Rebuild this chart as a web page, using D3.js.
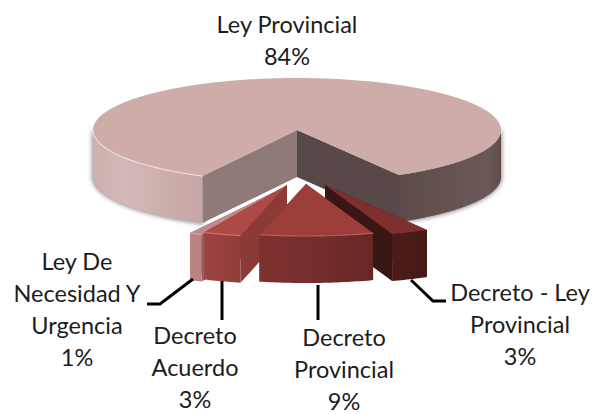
<!DOCTYPE html>
<html>
<head>
<meta charset="utf-8">
<script src="https://cdn.jsdelivr.net/npm/d3@7"></script>
<style>
    html, body { margin: 0; padding: 0; background: #fff; }
    text { font-family: Lato, "Open Sans", sans-serif; font-size: 23.5px; fill: #1c1c1c; text-anchor: middle; }
</style>
</head>
<body>
<div id="chart"></div>
<script>
const categories = ['Ley Provincial', 'Decreto - Ley Provincial', 'Decreto Provincial', 'Decreto Acuerdo', 'Ley De Necesidad Y Urgencia'];
const percentages = [84, 3, 9, 3, 1];

// how each label breaks into lines
const labelLines = [
    ['Ley Provincial', '84%'],
    ['Decreto - Ley', 'Provincial', '3%'],
    ['Decreto', 'Provincial', '9%'],
    ['Decreto', 'Acuerdo', '3%'],
    ['Ley De', 'Necesidad Y', 'Urgencia', '1%']
];

// colours per slice
const topColors = ['#cdacaa', '#7f302e', '#9c3d3a', '#ad4a46', '#bf8a88'];
const startWallColors = ['#8f7a78', '#3a1614', '#3a1614', '#8b3a37', '#8d6663'];
const endWallColors = ['#584847', '#3a1614', '#7a302e', '#8b3a37', '#8d6663'];
const rimHighlights = ['#f2dcda', null, '#b5605c', '#d4706b', '#d8a8a6'];
const sideStops = [
    [[0, '#cbb0ae'], [0.08, '#d2b8b6'], [0.28, '#c4a5a3'], [0.74, '#5d4b4a'], [0.97, '#6b5958'], [1, '#5d4b4a']],
    [[0, '#4d1c1a'], [1, '#451917']],
    [[0, '#7d312e'], [0.5, '#762e2c'], [1, '#672725']],
    [[0, '#9e4441'], [1, '#8f3c39']],
    [[0, '#bc8583'], [1, '#b98280']]
];

// layout
const width = 596;
const height = 414;
const center = { x: 297, y: 130 };
const radius = { x: 204, y: 52 };
const depth = 47;
const firstAngle = (207.6 * Math.PI) / 180;

// how far each slice was pulled out of the pie, in pixels
const explodeX = [0, 28, 9, -10, -12.5];
const explodeY = [0, 55, 54, 55, 57];

const labelCenterX = [287, 520, 344, 195, 77];
const labelFirstY = [33, 301, 346, 344, 270];
const lineStep = 32;

const leaders = [
    [[193, 279], [160, 304], [147, 304]],
    [[222, 281], [222, 320]],
    [[318, 285], [318, 320]],
    [[411, 280], [433, 301], [446, 301]]
];

const svg = d3
    .select('#chart')
    .append('svg')
    .attr('width', width)
    .attr('height', height)
    .style('display', 'block');

const defs = svg.append('defs');
defs.append('filter')
    .attr('id', 'soft')
    .attr('x', '-5%')
    .attr('y', '-20%')
    .attr('width', '110%')
    .attr('height', '140%')
    .append('feGaussianBlur')
    .attr('stdDeviation', 2);

const xScale = d3.scaleLinear().domain([-1, 1]).range([center.x - radius.x, center.x + radius.x]);
const yScale = d3.scaleLinear().domain([-1, 1]).range([center.y - radius.y, center.y + radius.y]);

const pie = d3
    .pie()
    .sort(null)
    .startAngle(firstAngle)
    .endAngle(firstAngle + 2 * Math.PI);

const slices = pie(percentages);

const line = d3.line().curve(d3.curveLinear);

// point on the rim, angle clockwise from the top of the pie
const rimPoint = (angle, i, drop = 0) => [
    xScale(Math.sin(angle)) + explodeX[i],
    yScale(-Math.cos(angle)) + explodeY[i] + drop
];
const apex = (i, drop = 0) => [center.x + explodeX[i], center.y + explodeY[i] + drop];

const arcPoints = (a0, a1, i, drop = 0) => {
    const steps = Math.max(2, Math.ceil(Math.abs(a1 - a0) * 60));
    return d3.range(steps + 1).map((k) => rimPoint(a0 + ((a1 - a0) * k) / steps, i, drop));
};

// parts of the arc that face the viewer, left to right
const frontParts = (a0, a1) => {
    const parts = [];
    for (let k = 0; k < 2; k++) {
        const lo = Math.max(a0, Math.PI / 2 + k * 2 * Math.PI);
        const hi = Math.min(a1, (3 * Math.PI) / 2 + k * 2 * Math.PI);
        if (lo < hi) parts.push([lo, hi]);
    }
    return parts;
};

const wallPath = (a, i) => {
    const rim = rimPoint(a, i);
    return line([apex(i), rim, [rim[0], rim[1] + depth], apex(i, depth)]) + 'Z';
};

const sidePath = (a0, a1, i) =>
    line(arcPoints(a0, a1, i).concat(arcPoints(a1, a0, i, depth))) + 'Z';

// painter's order: the big slice, then the small ones from the outside in
const drawOrder = [0, 4, 3, 1, 2];

// soft shadow under the big slice
frontParts(slices[0].startAngle, slices[0].endAngle).forEach(([a0, a1]) => {
    svg.append('path')
        .attr('d', sidePath(a0, a1, 0))
        .attr('fill', '#8d8d8d')
        .attr('stroke', '#8d8d8d')
        .attr('stroke-width', 2)
        .attr('filter', 'url(#soft)');
});

drawOrder.forEach((i) => {
    const d = slices[i];
    const g = svg.append('g').attr('class', 'slice');

    const gradId = 'side' + i;
    const parts = frontParts(d.startAngle, d.endAngle);
    const xs = parts.flatMap(([a0, a1]) => arcPoints(a0, a1, i).map((p) => p[0]));
    const grad = defs
        .append('linearGradient')
        .attr('id', gradId)
        .attr('gradientUnits', 'userSpaceOnUse')
        .attr('x1', d3.min(xs))
        .attr('x2', d3.max(xs))
        .attr('y1', 0)
        .attr('y2', 0);
    sideStops[i].forEach(([offset, color]) => {
        grad.append('stop').attr('offset', offset).attr('stop-color', color);
    });

    g.append('path').attr('d', wallPath(d.startAngle, i)).attr('fill', startWallColors[i]);
    g.append('path').attr('d', wallPath(d.endAngle, i)).attr('fill', endWallColors[i]);

    parts.forEach(([a0, a1]) => {
        g.append('path').attr('d', sidePath(a0, a1, i)).attr('fill', `url(#${gradId})`);
    });

    g.append('path')
        .attr('d', line([apex(i)].concat(arcPoints(d.startAngle, d.endAngle, i))) + 'Z')
        .attr('fill', topColors[i]);

    if (rimHighlights[i] && parts.length) {
        const [a0, a1] = parts[0];
        g.append('path')
            .attr('d', line(arcPoints(a0, a1, i)))
            .attr('fill', 'none')
            .attr('stroke', rimHighlights[i])
            .attr('stroke-width', 1.2);
    }
});

// leader lines
svg.selectAll('path.leader')
    .data(leaders)
    .enter()
    .append('path')
    .attr('class', 'leader')
    .attr('d', (d) => line(d))
    .attr('fill', 'none')
    .attr('stroke', '#000')
    .attr('stroke-width', 3);

// labels
svg.selectAll('text.label')
    .data(categories)
    .enter()
    .append('text')
    .attr('class', 'label')
    .attr('x', (d, i) => labelCenterX[i])
    .attr('y', (d, i) => labelFirstY[i])
    .selectAll('tspan')
    .data((d, i) => labelLines[i].map((t) => ({ t, x: labelCenterX[i] })))
    .enter()
    .append('tspan')
    .attr('x', (d) => d.x)
    .attr('dy', (d, k) => (k === 0 ? 0 : lineStep))
    .text((d) => d.t);
</script>
</body>
</html>
